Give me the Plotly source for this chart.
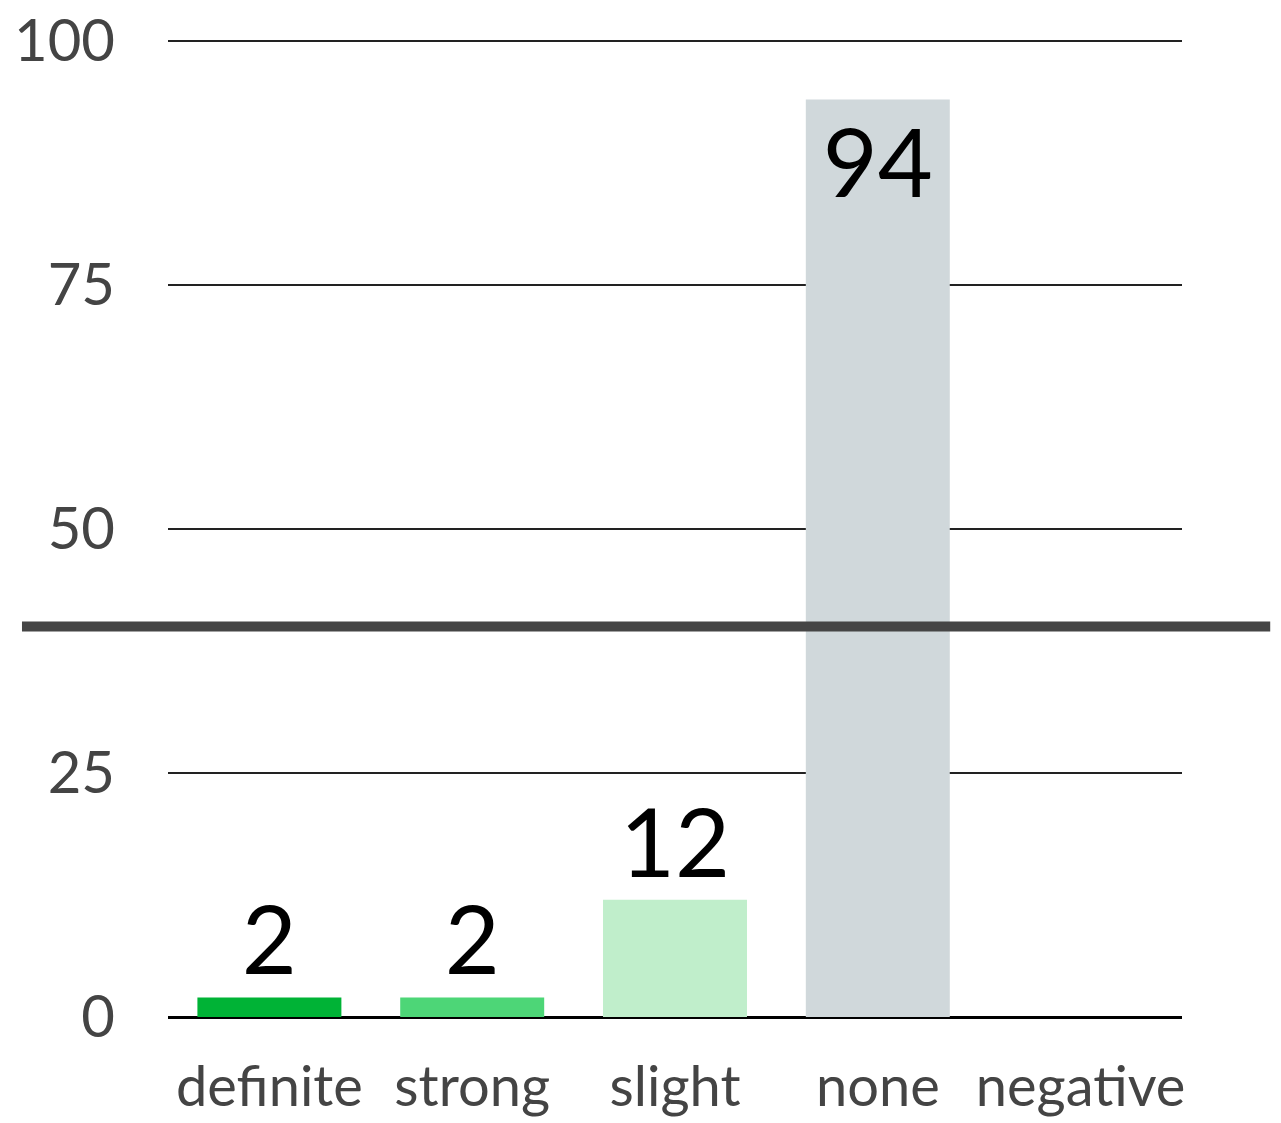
import plotly.graph_objects as go

categories = ["definite", "strong", "slight", "none", "negative"]
values = [2, 2, 12, 94, 0]
bar_colors = ["#00b336", "#4dd677", "#c0eecb", "#d0d8db", "#d0d8db"]
y_ticks = [0, 25, 50, 75, 100]
threshold = 40

labels = [str(v) if v > 0 else "" for v in values]
# tall bar gets its label inside, the rest above
positions = ["inside" if v > 80 else "outside" for v in values]

fig = go.Figure()

fig.add_trace(go.Bar(
    x=categories,
    y=values,
    text=labels,
    textposition=positions,
    textangle=0,
    textfont=dict(family="Lato", size=95, color="black"),
    insidetextanchor="end",
    cliponaxis=False,
    marker_color=bar_colors,
    marker_line_width=0,
    hoverinfo="x+y",
))

# thick reference line across the whole chart
fig.add_shape(
    type="line", xref="paper", yref="y",
    x0=-0.144, x1=1.087, y0=threshold, y1=threshold,
    line=dict(color="#454545", width=10),
    layer="above",
)

fig.update_layout(
    width=1281,
    height=1123,
    margin=dict(l=160, r=107, t=31, b=114),
    plot_bgcolor="white",
    paper_bgcolor="white",
    bargap=0.29,
    showlegend=False,
    font=dict(family="Lato", color="#444444"),
    xaxis=dict(
        automargin=False,
        showgrid=False,
        showline=False,
        ticks="",
        ticklabelstandoff=32,
        tickfont=dict(size=56, color="#444444"),
    ),
    yaxis=dict(
        automargin=False,
        range=[0, 100.2],
        tickvals=y_ticks,
        showgrid=True,
        gridcolor="#222222",
        gridwidth=2,
        zeroline=True,
        zerolinecolor="black",
        zerolinewidth=3,
        showline=False,
        ticks="",
        ticklabelstandoff=52,
        ticklabeloverflow="allow",
        tickfont=dict(size=58, color="#444444"),
    ),
)

fig.write_html("out.html")
